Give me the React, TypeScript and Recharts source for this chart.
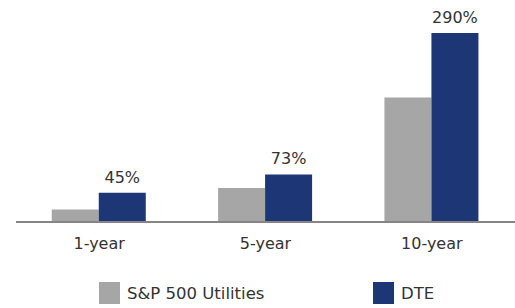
import React from 'react';
import { BarChart, Bar, XAxis, YAxis, Legend, LabelList } from 'recharts';

const periods = ['1-year', '5-year', '10-year'];
const seriesNames = ['S&P 500 Utilities', 'DTE'];
const utilitiesReturn = [19, 52, 191];
const dteReturn = [45, 73, 290];

const data = periods.map((period, i) => ({
  period,
  utilities: utilitiesReturn[i],
  dte: dteReturn[i],
}));

const FONT = '"DejaVu Sans", sans-serif';
const TEXT = '#333333';
const GRAY = '#a6a6a6';
const NAVY = '#1d3676';

const legendLeft = [99, 373];

const PeriodTick = (props: any) => {
  const { x, payload } = props;
  return (
    <text x={x} y={249} textAnchor="middle" fill={TEXT} fontSize={16} fontFamily={FONT}>
      {payload.value}
    </text>
  );
};

const PercentLabel = (props: any) => {
  const { x, y, width, value } = props;
  return (
    <text x={x + width / 2} y={y - 10} textAnchor="middle" fill={TEXT} fontSize={16} fontFamily={FONT}>
      {value}%
    </text>
  );
};

const LegendContent = (props: any) => {
  const { payload } = props;
  return (
    <div style={{ position: 'relative', width: 515, height: 32 }}>
      {(payload || []).map((entry: any) => {
        const idx = seriesNames.indexOf(entry.value);
        return (
          <div
            key={entry.value}
            style={{ position: 'absolute', left: legendLeft[idx], top: 6, display: 'flex', alignItems: 'center' }}
          >
            <span style={{ display: 'inline-block', width: 21, height: 22, background: entry.color }} />
            <span style={{ marginLeft: 7, fontFamily: FONT, fontSize: 16.5, color: TEXT, whiteSpace: 'nowrap' }}>
              {entry.value}
            </span>
          </div>
        );
      })}
    </div>
  );
};

export default function App() {
  return (
    <div style={{ position: 'absolute', left: 0, top: 0, background: '#fff' }}>
      <BarChart
        width={515}
        height={308}
        data={data}
        margin={{ top: 33, right: 0, bottom: 56, left: 16 }}
        barCategoryGap="21.5%"
        barGap={0}
      >
        <XAxis
          dataKey="period"
          height={30}
          tickLine={false}
          axisLine={{ stroke: '#858585', strokeWidth: 2 }}
          tick={<PeriodTick />}
          interval={0}
        />
        <YAxis hide domain={[0, 290]} />
        <Legend
          layout="vertical"
          verticalAlign="middle"
          align="center"
          wrapperStyle={{ left: 0, top: 276, width: 515, height: 32 }}
          content={<LegendContent />}
        />
        <Bar dataKey="utilities" name={seriesNames[0]} fill={GRAY} isAnimationActive={false} />
        <Bar dataKey="dte" name={seriesNames[1]} fill={NAVY} isAnimationActive={false}>
          <LabelList dataKey="dte" content={<PercentLabel />} />
        </Bar>
      </BarChart>
    </div>
  );
}
